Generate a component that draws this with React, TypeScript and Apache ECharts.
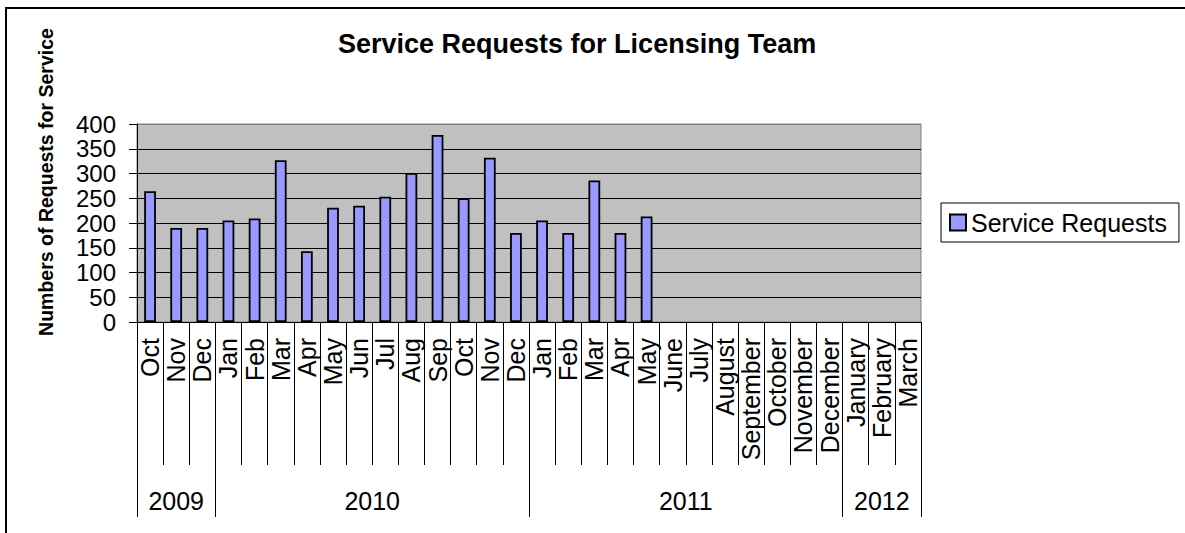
import React, { useEffect, useRef } from "react";
import * as echarts from "echarts";

const months = [
  "Oct", "Nov", "Dec", "Jan", "Feb", "Mar", "Apr", "May", "Jun", "Jul",
  "Aug", "Sep", "Oct", "Nov", "Dec", "Jan", "Feb", "Mar", "Apr", "May",
  "June", "July", "August", "September", "October", "November", "December",
  "January", "February", "March",
];

const serviceRequests: (number | null)[] = [
  264, 190, 190, 205, 209, 327, 143, 231, 235, 253,
  301, 378, 250, 332, 180, 205, 180, 286, 180, 213,
  null, null, null, null, null, null, null, null, null, null,
];

const years = ["2009", "2010", "2011", "2012"];
const yearSpans = [3, 12, 12, 3];

const yTicks = [0, 50, 100, 150, 200, 250, 300, 350, 400];

const FONT = "'Liberation Sans', Arial, sans-serif";

export default function App() {
  const ref = useRef<HTMLDivElement>(null);

  useEffect(() => {
    if (!ref.current) return;
    const chart = echarts.init(ref.current, null, { renderer: "svg" });

    const boundaries: number[] = [0];
    yearSpans.forEach((s) => boundaries.push(boundaries[boundaries.length - 1] + s));
    const centers = yearSpans.map((s, i) => boundaries[i] + s / 2);

    const splitColors = yTicks.map((_, i) => (i === yTicks.length - 1 ? "#808080" : "#000000"));

    chart.setOption({
      animation: false,
      backgroundColor: "#ffffff",
      title: {
        text: "Service Requests for Licensing Team",
        left: 338,
        top: 30,
        padding: 0,
        textStyle: { fontFamily: FONT, fontSize: 27, fontWeight: "bold", color: "#000" },
      },
      legend: {
        left: 941,
        top: 203,
        orient: "vertical",
        padding: [7, 12, 7, 8],
        borderColor: "#000",
        borderWidth: 1,
        itemWidth: 16,
        itemHeight: 16,
        icon: "rect",
        textStyle: { fontFamily: FONT, fontSize: 25, color: "#000" },
        data: ["Service Requests"],
      },
      grid: {
        left: 137,
        top: 124,
        right: 264,
        bottom: 211,
        show: true,
        backgroundColor: "#C0C0C0",
        borderColor: "#808080",
        borderWidth: 1,
        containLabel: false,
      },
      xAxis: [
        {
          type: "category",
          data: months,
          boundaryGap: true,
          axisLine: { show: true, lineStyle: { color: "#000", width: 1 } },
          axisTick: { show: true, interval: 0, length: 143, lineStyle: { color: "#000", width: 1 } },
          axisLabel: {
            interval: 0,
            rotate: 90,
            margin: 16,
            fontFamily: FONT,
            fontSize: 25,
            color: "#000",
          },
          splitLine: { show: false },
        },
        {
          type: "value",
          min: 0,
          max: boundaries[boundaries.length - 1],
          position: "bottom",
          axisLine: { show: false },
          splitLine: { show: false },
          axisTick: {
            show: true,
            length: 195,
            customValues: boundaries,
            lineStyle: { color: "#000", width: 1 },
          },
          axisLabel: {
            show: true,
            customValues: centers,
            margin: 166,
            fontFamily: FONT,
            fontSize: 25,
            color: "#000",
            formatter: (v: number) => {
              const i = centers.findIndex((c) => Math.abs(c - v) < 1e-6);
              return i >= 0 ? years[i] : "";
            },
          },
        },
      ],
      yAxis: {
        type: "value",
        min: 0,
        max: 400,
        interval: 50,
        axisLine: { show: true, lineStyle: { color: "#000", width: 1 } },
        axisTick: { show: true, length: 8, lineStyle: { color: "#000" } },
        axisLabel: { margin: 21, fontFamily: FONT, fontSize: 24, color: "#000" },
        splitLine: { show: true, lineStyle: { color: splitColors, width: 1 } },
      },
      series: [
        {
          name: "Service Requests",
          type: "bar",
          xAxisIndex: 0,
          data: serviceRequests,
          barWidth: "45%",
          itemStyle: { color: "#9999FF", borderColor: "#000", borderWidth: 1.8 },
        },
      ],
      graphic: [
        {
          type: "rect",
          shape: { x: 6, y: 8, width: 1400, height: 800 },
          style: { fill: "none", stroke: "#000", lineWidth: 2 },
          silent: true,
          z: 100,
        },
        {
          type: "text",
          x: 46,
          y: 182,
          rotation: Math.PI / 2,
          style: {
            text: "Numbers of Requests for Service",
            fontFamily: FONT,
            fontSize: 19.5,
            fontWeight: "bold",
            fill: "#000",
            textAlign: "center",
            textVerticalAlign: "middle",
          },
        },
      ],
    });

    return () => chart.dispose();
  }, []);

  return (
    <div
      ref={ref}
      style={{ position: "fixed", left: 0, top: 0, width: 1185, height: 533 }}
    />
  );
}
